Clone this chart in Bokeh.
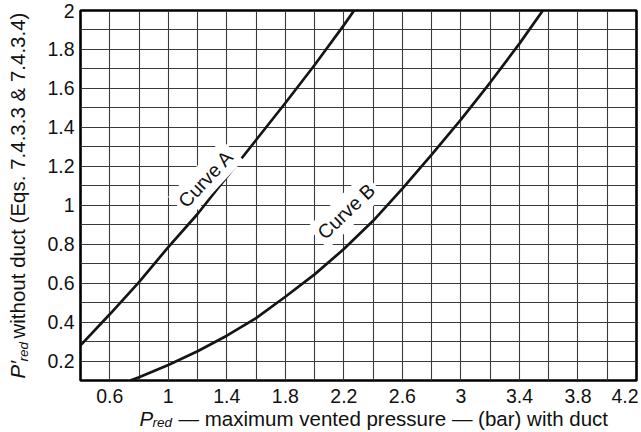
from bokeh.plotting import figure
from bokeh.models import FixedTicker, CustomJSTickFormatter, Label, Range1d, Title
from bokeh.embed import file_html
from bokeh.resources import INLINE
import math

# ---- data ----
curve_a_x = [0.4, 0.6, 0.8, 1.0, 1.2, 1.4, 1.6, 1.8, 2.0, 2.2, 2.27]
curve_a_y = [0.28, 0.44, 0.605, 0.785, 0.955, 1.145, 1.335, 1.525, 1.72, 1.925, 2.0]

curve_b_x = [0.74, 0.8, 1.0, 1.2, 1.4, 1.6, 1.8, 2.0, 2.2, 2.4, 2.6, 2.8, 3.0, 3.2, 3.4, 3.56]
curve_b_y = [0.10, 0.117, 0.18, 0.25, 0.33, 0.42, 0.53, 0.645, 0.775, 0.92, 1.085, 1.26, 1.44, 1.63, 1.83, 2.0]

x_tick_labels = [0.6, 1.0, 1.4, 1.8, 2.2, 2.6, 3.0, 3.4, 3.8, 4.2]
x_grid = [0.4, 0.6, 0.8, 1.0, 1.2, 1.4, 1.6, 1.8, 2.0, 2.2, 2.4, 2.6, 2.8, 3.0,
          3.2, 3.4, 3.6, 3.8, 4.0, 4.2]
y_tick_labels = [0.2, 0.4, 0.6, 0.8, 1.0, 1.2, 1.4, 1.6, 1.8, 2.0]
y_grid = [0.1, 0.2, 0.3, 0.4, 0.5, 0.6, 0.7, 0.8, 0.9, 1.0, 1.1, 1.2, 1.3, 1.4,
          1.5, 1.6, 1.7, 1.8, 1.9, 2.0]

FONT = "Liberation Sans"
FS = "19.5px"
TT_PX, SUB_PX, SP_PX = 20.5, 13.5, 1.0
LH = 1.13  # approx. font height / font size

X0, X1, Y0, Y1 = 0.4, 4.2, 0.1, 2.0
W, H = 638, 432
BL, BR, BT, BB = 80, 2, 10, 52

p = figure(width=W, height=H, output_backend="svg", toolbar_location=None,
           x_range=Range1d(X0, X1), y_range=Range1d(Y0, Y1),
           min_border_left=BL, min_border_right=BR, min_border_top=BT, min_border_bottom=BB)

p.outline_line_color = "black"
p.outline_line_width = 2.6
p.background_fill_color = "white"
p.border_fill_color = "white"

fmt = CustomJSTickFormatter(code="return Number(tick.toFixed(1)).toString();")
for ax, ticks, stand in ((p.xaxis[0], x_tick_labels, 8), (p.yaxis[0], y_tick_labels, 6)):
    ax.ticker = FixedTicker(ticks=ticks)
    ax.formatter = fmt
    ax.major_tick_out = 0
    ax.major_tick_in = 0
    ax.minor_tick_out = 0
    ax.minor_tick_in = 0
    ax.axis_line_color = None
    ax.major_label_standoff = stand
    ax.major_label_text_font = FONT
    ax.major_label_text_font_size = FS
    ax.major_label_text_color = "#111111"

p.xgrid.ticker = FixedTicker(ticks=x_grid)
p.ygrid.ticker = FixedTicker(ticks=y_grid)
for g in (p.xgrid[0], p.ygrid[0]):
    g.grid_line_color = "#3a3a3a"
    g.grid_line_width = 1.1

p.line(curve_a_x, curve_a_y, line_color="#151515", line_width=2.7)
p.line(curve_b_x, curve_b_y, line_color="#151515", line_width=2.7)

# curve labels
p.add_layout(Label(x=1.256, y=1.137, text="Curve A", angle=math.radians(47),
                   text_align="center", text_baseline="middle",
                   text_font=FONT, text_font_size=FS, text_color="#111111",
                   background_fill_color="white", padding=4))
p.add_layout(Label(x=2.215, y=0.97, text="Curve B", angle=math.radians(43.5),
                   text_align="center", text_baseline="middle",
                   text_font=FONT, text_font_size=FS, text_color="#111111",
                   background_fill_color="white", padding=4))


# axis titles built from Title pieces stacked in the side panels
def spacer(thickness):
    # invisible title that only occupies `thickness` pixels of the side panel
    return Title(text=" ", text_font=FONT, text_font_size=f"{SP_PX}px",
                 standoff=thickness - 2 - SP_PX * LH)


def piece(text, offset, size_px, italic=False):
    # zero-thickness title, text centred on the panel position
    return Title(text=text, text_font=FONT, text_font_size=f"{size_px}px",
                 text_font_style="italic" if italic else "normal",
                 text_color="#111111", align="left", vertical_align="middle",
                 offset=offset, standoff=-(2 + size_px * LH))


# x title: P(red) — maximum vented pressure — (bar) with duct
p.add_layout(spacer(13), "below")
p.add_layout(piece("P", 59, TT_PX, italic=True), "below")
p.add_layout(piece("\u2014 maximum vented pressure \u2014 (bar) with duct", 98, TT_PX), "below")
p.add_layout(spacer(4), "below")
p.add_layout(piece("red", 72, SUB_PX, italic=True), "below")

# y title: P'(red) without duct (Eqs. 7.4.3.3 & 7.4.3.4)
p.add_layout(spacer(21), "left")
p.add_layout(piece("red", 19, SUB_PX, italic=True), "left")
p.add_layout(spacer(6), "left")
p.add_layout(piece("P\u2032", 2, TT_PX, italic=True), "left")
p.add_layout(piece("without duct (Eqs. 7.4.3.3 & 7.4.3.4)", 42, TT_PX), "left")

open("out.html", "w").write(file_html(p, INLINE))
